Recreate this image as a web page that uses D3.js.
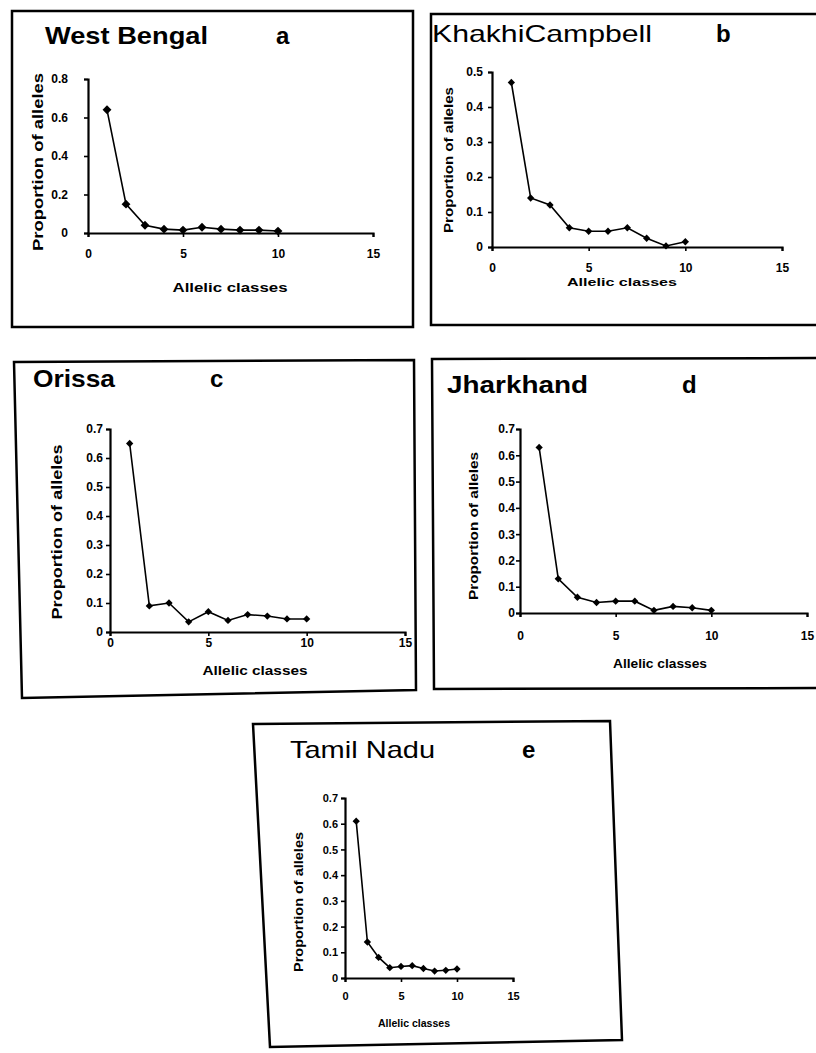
<!DOCTYPE html>
<html><head><meta charset="utf-8">
<script src="https://cdn.jsdelivr.net/npm/d3@7"></script>
<style>body{margin:0;background:#fff}svg{display:block}</style>
</head><body>
<svg id="c" width="816" height="1053"></svg>
<script>
// ---- data ----
const allelicClasses = [1,2,3,4,5,6,7,8,9,10];
const westBengal     = [0.64,0.15,0.04,0.02,0.015,0.03,0.02,0.015,0.015,0.01];
const khakhiCampbell = [0.47,0.14,0.12,0.055,0.045,0.045,0.055,0.025,0.003,0.015];
const orissa         = [0.65,0.09,0.10,0.035,0.07,0.04,0.06,0.055,0.045,0.045];
const jharkhand      = [0.63,0.13,0.06,0.04,0.045,0.045,0.01,0.025,0.02,0.01];
const tamilNadu      = [0.61,0.14,0.08,0.04,0.045,0.048,0.037,0.027,0.03,0.035];
const xTicks  = [0,5,10,15];
const yTicks8 = [0,0.2,0.4,0.6,0.8];
const yTicks5 = [0,0.1,0.2,0.3,0.4,0.5];
const yTicks7 = [0,0.1,0.2,0.3,0.4,0.5,0.6,0.7];
const titles  = ["West Bengal","KhakhiCampbell","Orissa","Jharkhand","Tamil Nadu"];
const letters = ["a","b","c","d","e"];
const xTitle = "Allelic classes";
const yTitle = "Proportion of alleles";

// ---- layout ----
const panels = [
 {title:titles[0],letter:letters[0],vals:westBengal,yMax:0.8,yTicks:yTicks8,
  frame:[[12,11],[413,11],[413,327],[12,327]],
  x0:88,x1:373,y0:233,y1:79, titleX:45,titleY:44,titleW:163,titleFs:24,titleBold:true,letterX:276,
  tickY:258,xtY:292,xtX:230,xtW:115,ytX:38,ytY:162,ytW:178,ytFs:14,ylabX:68,tickFs:12,xtFs:12,mk:50},
 {title:titles[1],letter:letters[1],vals:khakhiCampbell,yMax:0.5,yTicks:yTicks5,
  frame:[[431,14],[822,14],[822,325],[431,325]],
  x0:492,x1:782,y0:247,y1:72, titleX:432,titleY:42,titleW:220,titleFs:24,titleBold:false,letterX:716,
  tickY:272,xtY:286,xtX:622,xtW:110,ytX:448,ytY:160,ytW:146,ytFs:12,ylabX:483,tickFs:12,xtFs:11,mk:34},
 {title:titles[2],letter:letters[2],vals:orissa,yMax:0.7,yTicks:yTicks7,
  frame:[[14,362],[414,360],[416,690],[22,698]],
  x0:110,x1:405,y0:632,y1:429, titleX:33,titleY:387,titleW:82,titleFs:24,titleBold:true,letterX:210,
  tickY:647,xtY:675,xtX:255,xtW:105,ytX:57,ytY:532,ytW:175,ytFs:14,ylabX:103,tickFs:12,xtFs:12,mk:34},
 {title:titles[3],letter:letters[3],vals:jharkhand,yMax:0.7,yTicks:yTicks7,
  frame:[[432,359],[822,358],[822,688],[434,689]],
  x0:520,x1:807,y0:613,y1:429, titleX:447,titleY:393,titleW:141,titleFs:24,titleBold:true,letterX:682,
  tickY:640,xtY:668,xtX:660,xtW:94,ytX:473,ytY:526,ytW:148,ytFs:13,ylabX:515,tickFs:12,xtFs:12,mk:34},
 {title:titles[4],letter:letters[4],vals:tamilNadu,yMax:0.7,yTicks:yTicks7,
  frame:[[253,724],[610,721],[622,1040],[270,1047]],
  x0:345,x1:513,y0:978,y1:798, titleX:290,titleY:758,titleW:145,titleFs:24,titleBold:false,letterX:522,
  tickY:1000,xtY:1027,xtX:414,xtW:72,ytX:298,ytY:902,ytW:140,ytFs:12,ylabX:338,tickFs:11,xtFs:10,mk:34}
];

const svg = d3.select("#c");
const FONT = "Liberation Sans, Arial, sans-serif";
const fmt = v => v===0 ? "0" : d3.format(".1f")(v);

panels.forEach(p=>{
  const g = svg.append("g");
  g.append("path").attr("d", d3.line()(p.frame)+"Z")
    .attr("fill","none").attr("stroke","#000").attr("stroke-width",2.5);

  g.append("text").attr("x",p.titleX).attr("y",p.titleY).text(p.title)
    .attr("font-family",FONT).attr("font-size",p.titleFs)
    .attr("font-weight",p.titleBold?"bold":"normal")
    .attr("textLength",p.titleW).attr("lengthAdjust","spacingAndGlyphs");
  g.append("text").attr("x",p.letterX).attr("y",p.titleY).text(p.letter)
    .attr("font-family",FONT).attr("font-size",p.titleFs).attr("font-weight","bold");

  const x = d3.scaleLinear().domain([0,15]).range([p.x0,p.x1]);
  const y = d3.scaleLinear().domain([0,p.yMax]).range([p.y0,p.y1]);

  // axes
  const xa = g.append("g").attr("transform",`translate(0,${p.y0})`)
    .call(d3.axisBottom(x).tickValues(xTicks).tickSize(4).tickFormat(d3.format("d")));
  const ya = g.append("g").attr("transform",`translate(${p.x0},0)`)
    .call(d3.axisLeft(y).tickValues(p.yTicks).tickSize(4).tickFormat(fmt));
  [xa,ya].forEach(a=>{
    a.attr("font-family",FONT).attr("font-size",p.tickFs).attr("font-weight","bold");
    a.select(".domain").attr("stroke","#000").attr("stroke-width",2.2);
    a.selectAll(".tick line").attr("stroke","#000").attr("stroke-width",1.6);
    a.selectAll(".tick text").attr("fill","#000");
  });
  xa.selectAll(".tick text").attr("y",p.tickY-p.y0).attr("dy",0);
  ya.selectAll(".tick text").attr("x",p.ylabX-p.x0).attr("dy","0.33em");

  // axis titles
  g.append("text").attr("x",p.xtX).attr("y",p.xtY).attr("text-anchor","middle")
    .attr("font-family",FONT).attr("font-weight","bold").attr("font-size",p.xtFs)
    .attr("textLength",p.xtW).attr("lengthAdjust","spacingAndGlyphs").text(xTitle);
  g.append("text").attr("transform",`translate(${p.ytX+5},${p.ytY}) rotate(-90)`)
    .attr("text-anchor","middle")
    .attr("font-family",FONT).attr("font-weight","bold").attr("font-size",p.ytFs)
    .attr("textLength",p.ytW).attr("lengthAdjust","spacingAndGlyphs").text(yTitle);

  // series
  const pts = allelicClasses.map((c,i)=>[c,p.vals[i]]);
  g.append("path").datum(pts)
    .attr("d",d3.line().x(d=>x(d[0])).y(d=>y(d[1])))
    .attr("fill","none").attr("stroke","#000").attr("stroke-width",1.6);
  g.selectAll(null).data(pts).enter().append("path")
    .attr("transform",d=>`translate(${x(d[0])},${y(d[1])})`)
    .attr("d",d3.symbol(d3.symbolDiamond2,p.mk)())
    .attr("fill","#000");
});
</script>
</body></html>
